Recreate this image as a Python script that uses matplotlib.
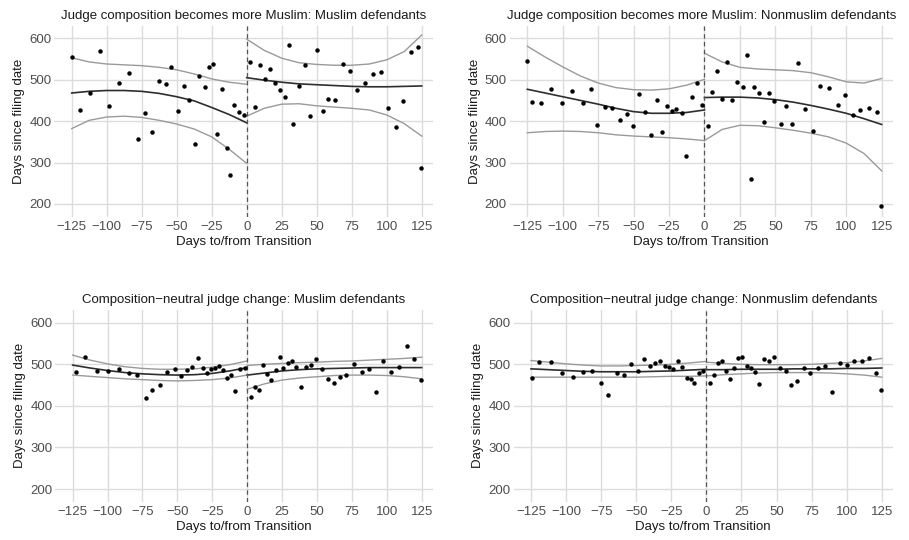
import matplotlib
matplotlib.use("Agg")
import matplotlib.pyplot as plt

plt.rcParams['font.family'] = ['Liberation Sans', 'DejaVu Sans']
plt.rcParams['lines.scale_dashes'] = False

W, H = 909, 540

titles = [
    "Judge composition becomes more Muslim: Muslim defendants",
    "Judge composition becomes more Muslim: Nonmuslim defendants",
    "Composition\u2212neutral judge change: Muslim defendants",
    "Composition\u2212neutral judge change: Nonmuslim defendants",
]
x_ticks = [-125, -100, -75, -50, -25, 0, 25, 50, 75, 100, 125]
y_ticks = [200, 300, 400, 500, 600]
xlabel = "Days to/from Transition"
ylabel = "Days since filing date"

fit_x_pre = [-125, -112.5, -100, -87.5, -75, -62.5, -50, -37.5, -25, -12.5, 0]
fit_x_post = [0, 12.5, 25, 37.5, 50, 62.5, 75, 87.5, 100, 112.5, 125]

# ---- Panel 1: more Muslim, Muslim defendants
p1_x = [-125, -119, -112, -105, -98.5, -91.5, -84, -78, -73, -68, -63, -58, -54, -49,
        -45, -41, -37, -34, -30, -27, -24, -21, -17.5, -14, -12, -9, -5.5, -2,
        2.6, 6.2, 9.3, 13, 16.5, 20, 24, 27, 30.5, 33.4, 37, 41.3, 45, 50, 54.7,
        58.2, 62.8, 68.5, 73.7, 79, 84.5, 90, 95.7, 101, 106.4, 111.5, 117, 122.4, 124.8]
p1_y = [554, 428, 469, 570, 436, 492, 516, 356, 419, 373, 496, 489, 531, 425,
        484, 450, 345, 509, 482, 531, 537, 369, 477, 335, 271, 438, 422, 414,
        543, 435, 536, 502, 527, 491, 475, 459, 584, 392, 485, 535, 413, 572, 425,
        453, 450, 537, 520, 475, 492, 515, 518, 431, 385, 449, 566, 578, 287]
p1_pre_fit = [468, 472, 474, 474, 472, 467, 459, 449, 433, 416, 396]
p1_pre_hi = [553, 543, 538, 536, 534, 530, 524, 514, 502, 494, 489]
p1_pre_lo = [382, 402, 410, 412, 409, 402, 393, 381, 362, 332, 298]
p1_post_fit = [505, 499, 494, 490, 488, 486, 484, 483, 483, 484, 485]
p1_post_hi = [598, 571, 552, 541, 537, 535, 535, 538, 548, 568, 608]
p1_post_lo = [412, 431, 441, 442, 437, 434, 431, 427, 415, 394, 364]

# ---- Panel 2: more Muslim, Nonmuslim defendants
p2_x = [-125, -122, -115, -108, -100.4, -93.5, -86, -80, -75.5, -70, -65, -59.5, -55,
        -50.4, -46.4, -42, -37.7, -33.7, -29.7, -26.4, -23, -19.8, -16, -12.8, -9,
        -5.4, -1.9,
        2.3, 5.4, 8.7, 12.2, 15.7, 19.2, 23.2, 27, 30, 32.8, 35.2, 38.7, 42, 45.3,
        49, 53.7, 57.5, 61.7, 65.7, 70.8, 76.5, 81.8, 87.9, 94, 99.2, 104.6, 110,
        116.3, 121.5, 124.5]
p2_y = [545, 447, 445, 477, 445, 474, 445, 477, 390, 434, 432, 402, 417,
        388, 466, 423, 367, 450, 375, 437, 424, 430, 419, 317, 458,
        491, 440,
        388, 470, 522, 454, 544, 450, 494, 483, 560, 261, 482, 469, 399, 469,
        448, 392, 436, 392, 540, 429, 376, 486, 481, 438, 462, 414, 427,
        432, 422, 195]
p2_pre_fit = [477, 468, 459, 450, 441, 431, 423, 419, 419, 421, 427]
p2_pre_hi = [581, 555, 531, 509, 492, 481, 476, 475, 478, 487, 501]
p2_pre_lo = [372, 375, 376, 375, 372, 367, 364, 362, 360, 357, 353]
p2_post_fit = [457, 458, 458, 456, 452, 446, 438, 429, 419, 406, 392]
p2_post_hi = [564, 543, 530, 526, 524, 522, 517, 507, 495, 492, 503]
p2_post_lo = [353, 380, 390, 389, 384, 378, 371, 362, 347, 322, 280]

# ---- Panel 3: neutral change, Muslim defendants
p3_x = [-122.5, -116, -107.3, -99.5, -92, -85, -78.6, -72.8, -68, -62.2, -57.3, -52,
        -47.4, -43, -39.2, -35.4, -32, -29, -26, -23, -20.2, -17, -14.3, -11.5, -8.7,
        -4.8, -1.7,
        2.4, 5.7, 8.6, 11.5, 14.3, 17.4, 20.3, 23.4, 26, 29, 32, 35.3, 38.4, 41.8,
        45.6, 49.4, 53.7, 57.8, 62, 66.3, 71, 76.6, 82, 87.4, 92.4, 97.6, 103.3, 109,
        114.3, 119.8, 124.3]
p3_y = [481, 518, 483, 485, 488, 478, 473, 418, 438, 450, 481, 489,
        472, 486, 494, 514, 492, 479, 489, 490, 495, 486, 466, 474, 436,
        488, 491,
        422, 446, 438, 499, 476, 461, 486, 518, 491, 503, 509, 493, 445, 494,
        498, 513, 489, 465, 456, 469, 473, 501, 482, 489, 433, 508, 481, 494,
        544, 513, 463]
p3_pre_fit = [498, 491, 485, 480, 477, 475, 474, 475, 478, 484, 492]
p3_pre_hi = [522, 510, 501, 494, 490, 488, 488, 489, 493, 499, 508]
p3_pre_lo = [474, 471, 468, 465, 463, 461, 460, 461, 463, 467, 474]
p3_post_fit = [474, 479, 484, 487, 489, 490, 491, 492, 492, 492, 492]
p3_post_hi = [497, 500, 502, 504, 505, 507, 508, 510, 512, 514, 517]
p3_post_lo = [440, 453, 462, 467, 470, 473, 474, 474, 473, 470, 465]

# ---- Panel 4: neutral change, Nonmuslim defendants
p4_x = [-124.2, -119, -110.7, -102.6, -95, -88, -81.2, -75, -69.8, -64, -58.4, -53.4,
        -48.7, -44.2, -40, -36.3, -32.8, -29.7, -26.4, -23.5, -20.2, -17.1, -14, -11.2,
        -8.6, -5.2, -2.1,
        2.4, 5.2, 8.1, 10.9, 14, 16.8, 19.7, 22.8, 25.6, 28.7, 31.5, 34.6, 37.5, 41,
        44.4, 48.4, 52.4, 56.5, 60.2, 64.3, 69.3, 73.8, 79.2, 84.4, 89.7, 94.9, 100,
        105.3, 110.8, 115.7, 121, 124.3]
p4_y = [468, 505, 506, 480, 469, 481, 483, 456, 426, 478, 475, 501,
        485, 512, 497, 504, 509, 496, 493, 489, 507, 494, 466, 465,
        456, 480, 485,
        456, 473, 502, 507, 485, 465, 492, 514, 517, 497, 492, 482, 453, 513,
        508, 517, 490, 484, 450, 460, 491, 480, 492, 497, 434, 503, 498,
        508, 507, 514, 478, 437]
p4_pre_fit = [489, 487, 485, 483, 482, 482, 482, 483, 484, 486, 488]
p4_pre_hi = [509, 505, 501, 498, 496, 496, 497, 498, 500, 503, 507]
p4_pre_lo = [469, 469, 469, 469, 469, 469, 469, 470, 471, 471, 472]
p4_post_fit = [487, 487, 488, 488, 488, 489, 489, 489, 490, 490, 491]
p4_post_hi = [505, 502, 500, 499, 499, 499, 500, 502, 504, 508, 514]
p4_post_lo = [472, 475, 477, 479, 480, 480, 480, 479, 477, 474, 469]

panels = [
    (p1_x, p1_y, p1_pre_fit, p1_pre_hi, p1_pre_lo, p1_post_fit, p1_post_hi, p1_post_lo),
    (p2_x, p2_y, p2_pre_fit, p2_pre_hi, p2_pre_lo, p2_post_fit, p2_post_hi, p2_post_lo),
    (p3_x, p3_y, p3_pre_fit, p3_pre_hi, p3_pre_lo, p3_post_fit, p3_post_hi, p3_post_lo),
    (p4_x, p4_y, p4_pre_fit, p4_pre_hi, p4_pre_lo, p4_post_fit, p4_post_hi, p4_post_lo),
]

# axes boxes in pixels: (left, top, right, bottom)
boxes = [
    (54.2, 25.5, 432.9, 216.8),
    (509.6, 25.5, 893.0, 216.8),
    (55.2, 309.8, 432.9, 501.9),
    (513.5, 309.8, 893.0, 501.9),
]

fig = plt.figure(figsize=(W / 100, H / 100), dpi=100)
fig.patch.set_facecolor('white')

grid_col = '#dcdcdc'
band_col = '#9a9a9a'
fit_col = '#2e2e2e'

for i, (box, data) in enumerate(zip(boxes, panels)):
    l, t, r, b = box
    ax = fig.add_axes([l / W, 1 - b / H, (r - l) / W, (b - t) / H])
    xs, ys, pre_f, pre_h, pre_l, post_f, post_h, post_l = data
    ax.set_xlim(-137.5, 133)
    ax.set_ylim(169, 631)
    ax.set_xticks(x_ticks)
    ax.set_yticks(y_ticks)
    ax.set_xticklabels([str(v).replace('-', '\u2212') for v in x_ticks])
    ax.grid(True, color=grid_col, lw=1.0)
    ax.set_axisbelow(True)
    for s in ax.spines.values():
        s.set_visible(False)
    ax.tick_params(length=0, labelsize=9.5, labelcolor='#4d4d4d', pad=3)
    ax.tick_params(axis='y', pad=2)

    for fx, hi in ((fit_x_pre, pre_h), (fit_x_post, post_h)):
        ax.plot(fx, hi, color=band_col, lw=1.0, zorder=2)
    for fx, lo in ((fit_x_pre, pre_l), (fit_x_post, post_l)):
        ax.plot(fx, lo, color=band_col, lw=1.0, zorder=2)
    for fx, fv in ((fit_x_pre, pre_f), (fit_x_post, post_f)):
        ax.plot(fx, fv, color=fit_col, lw=1.2, zorder=3)

    ax.plot(xs, ys, 'o', color='black', ms=3.2, mew=0, zorder=4)
    ax.axvline(0, color='#555555', lw=0.9, dashes=(3.2, 2.4), zorder=3)

    ax.set_title(titles[i], fontsize=9.5, color='#1a1a1a', pad=5)
    ax.set_xlabel(xlabel, fontsize=9.5, color='#1a1a1a', labelpad=2)
    ax.set_ylabel(ylabel, fontsize=9.5, color='#1a1a1a', labelpad=3)

fig.savefig('out.png', dpi=100)
